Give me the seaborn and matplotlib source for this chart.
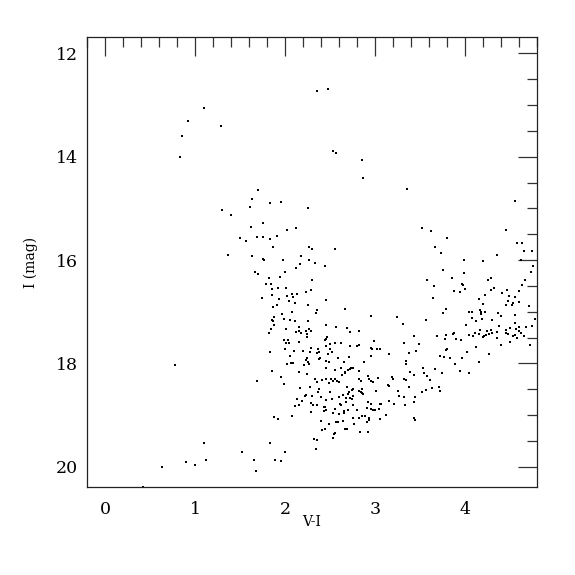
import numpy as np
import pandas as pd
import matplotlib
matplotlib.use("Agg")
import matplotlib.pyplot as plt
import seaborn as sns
from matplotlib.ticker import MultipleLocator

# (V-I, I) pairs, grouped by region of the diagram
bright = [(2.35,12.73),(2.48,12.69),(1.10,13.05),(0.92,13.31),(1.29,13.40),(0.86,13.59),
          (0.83,14.01),(2.53,13.89),(2.57,13.93),(2.86,14.07),(2.87,14.41),(3.36,14.63),
          (0.78,18.04),(2.56,15.79),(2.44,16.12)]

branch_upper = [(1.70,14.65),(1.63,14.82),(1.83,14.90),(1.96,14.88),(1.61,14.97),(2.25,14.99),
          (1.30,15.04),(1.40,15.12),(1.76,15.29),(1.62,15.36),(2.12,15.38),(2.02,15.41),
          (1.91,15.53),(1.50,15.57),(1.57,15.64),(1.69,15.56),(1.75,15.56),(1.83,15.59),
          (1.87,15.75),(2.27,15.74),(2.30,15.78),(1.37,15.90),(1.63,15.93),(1.76,15.98),
          (1.77,16.00),(1.98,16.00),(2.18,15.92),(2.27,16.00),(2.33,16.05),(2.17,16.07),
          (2.12,16.15),(2.00,16.23),(1.67,16.23),(1.70,16.28),(1.94,16.33),(1.82,16.34),
          (2.30,16.38),(1.79,16.47),(1.84,16.46),(1.85,16.56),(1.92,16.54),(2.01,16.54),
          (2.29,16.58),(2.23,16.61),(2.08,16.66),(2.13,16.66),(1.74,16.74),(1.86,16.68),
          (2.02,16.70),(2.09,16.72),(1.93,16.75)]

branch_lower = [(2.04,16.79),(2.11,16.83),(2.25,16.87),(1.91,16.88),(1.87,16.90),(2.35,16.97),
          (2.34,17.03),(2.08,17.01),(1.97,17.05),(1.88,17.10),(1.86,17.16),(1.87,17.18),
          (1.99,17.14),(2.06,17.16),(2.11,17.18),(2.26,17.19),(1.88,17.26),(2.15,17.29),
          (1.84,17.33),(2.01,17.34),(2.16,17.37),(2.27,17.34),(2.29,17.37),(2.12,17.39),
          (1.82,17.41),(2.18,17.41),(2.23,17.37),(2.24,17.44),(2.24,17.49),(1.99,17.55),
          (2.03,17.55),(2.01,17.61),(2.04,17.60),(2.16,17.59),(2.29,17.70),(2.00,17.72),
          (2.37,17.72),(1.83,17.79),(2.10,17.77),(2.20,17.77),(2.28,17.79),(2.36,17.80),
          (2.38,17.79),(2.05,17.86),(2.24,17.90),(2.23,17.94),(2.38,17.92),(2.26,17.97),
          (2.07,17.99),(2.09,17.99),(2.02,18.01),(2.21,18.03),(2.27,18.02),(1.85,18.15),
          (2.15,18.17),(2.24,18.21),(1.95,18.27),(1.69,18.35),(2.33,18.30),(2.36,18.37),
          (1.99,18.40),(2.17,18.48),(2.28,18.45),(2.38,18.49)]

clump = [(2.45,16.78),(2.67,16.95),(2.95,17.08),(3.24,17.10),(3.31,17.23),(2.45,17.25),
          (2.57,17.30),(2.69,17.32),(2.72,17.39),(2.82,17.38),(3.43,17.47),(2.47,17.49),
          (2.46,17.53),(2.44,17.54),(2.99,17.57),(3.32,17.60),(3.49,17.63),(2.50,17.63),
          (2.55,17.61),(2.62,17.61),(2.82,17.64),(2.80,17.67),(2.72,17.67),(2.45,17.67),
          (2.95,17.71),(2.97,17.72),(3.02,17.73),(3.06,17.73),(2.50,17.73),(2.48,17.81),
          (2.52,17.79),(3.16,17.81),(3.38,17.80),(3.45,17.76),(2.96,17.85),(2.59,17.89),
          (2.71,17.88),(2.39,17.90),(2.88,17.98),(2.65,17.98),(2.49,17.98),(2.46,17.96),
          (3.34,17.96),(3.34,18.01),(3.39,18.16),(3.43,18.23),(2.45,18.09),(2.56,18.12),
          (2.62,18.09),(2.70,18.12),(2.73,18.09),(2.75,18.09),(2.72,18.11),(2.82,18.15),
          (2.67,18.16),(2.67,18.19),(2.63,18.22),(2.41,18.32),(2.45,18.31),(2.51,18.30),
          (2.56,18.30),(2.58,18.34),(2.53,18.34),(2.60,18.36),(2.49,18.38),(2.92,18.25),
          (2.93,18.31),(2.96,18.34),(2.98,18.36),(3.03,18.29),(2.82,18.30),(2.84,18.35),
          (3.19,18.27),(3.20,18.30),(3.32,18.31),(3.34,18.32),(3.14,18.41),(3.16,18.44),
          (3.38,18.45),(2.69,18.45),(2.76,18.49),(2.85,18.50)]

clump_faint = [(2.40,18.66),(2.50,18.56),(2.60,18.66),(2.64,18.61),(2.70,18.59),(2.71,18.55),
          (2.74,18.52),(2.82,18.53),(2.84,18.55),(2.86,18.57),(2.87,18.59),(3.01,18.53),
          (3.26,18.53),(3.27,18.63),(3.32,18.65),(3.44,18.66),(3.52,18.56),(3.57,18.52),
          (3.72,18.54),(2.46,18.71),(2.52,18.70),(2.68,18.68),(2.72,18.68),(2.74,18.70),
          (2.68,18.74),(2.76,18.63),(2.43,18.85),(2.44,18.84),(2.45,18.91),(2.43,18.93),
          (2.56,18.88),(2.62,18.80),(2.61,18.78),(2.70,18.90),(2.76,18.81),(2.92,18.74),
          (2.96,18.79),(3.06,18.79),(3.07,18.79),(3.16,18.73),(3.21,18.79),(3.33,18.80),
          (3.43,18.74),(2.80,18.90),(2.91,18.86),(2.96,18.89),(2.98,18.90),(3.00,18.90),
          (3.04,18.88),(2.53,18.97),(2.60,18.99),(2.66,18.96),(2.66,18.92),(2.76,19.06),
          (2.82,19.06),(2.86,19.01),(2.89,19.01),(2.93,19.05),(2.93,19.10),(2.91,19.14),
          (3.05,19.08),(3.12,19.00),(3.43,19.05),(3.44,19.09),(2.40,19.11),(2.49,19.17),
          (2.57,19.13),(2.59,19.13),(2.64,19.12),(2.77,19.17),(2.67,19.27),(2.69,19.28),
          (2.83,19.32),(2.92,19.32),(2.41,19.30),(2.44,19.28),(2.54,19.36),(2.56,19.34),
          (2.53,19.45)]

faint_blue = [(2.37,18.56),(2.22,18.63),(2.23,18.62),(2.30,18.63),(2.13,18.69),(2.19,18.72),
          (2.29,18.76),(2.31,18.80),(2.36,18.81),(2.11,18.82),(2.16,18.81),(2.29,18.94),
          (2.08,19.01),(1.88,19.03),(1.92,19.08),(2.32,19.46),(2.36,19.48),(2.34,19.65),
          (1.83,19.54),(1.10,19.55),(1.52,19.72),(2.00,19.72),(1.65,19.88),(1.89,19.87),
          (1.95,19.90),(1.12,19.88),(0.90,19.91),(1.00,19.96),(0.63,20.01),(1.68,20.08),
          (0.42,20.39)]

red_upper = [(4.56,14.86),(3.52,15.38),(3.62,15.43),(4.46,15.41),(3.80,15.58),(4.58,15.67),
          (4.63,15.68),(3.67,15.75),(4.65,15.82),(4.74,15.82),(3.73,15.87),(4.36,15.90),
          (3.99,16.00),(4.20,16.01),(4.62,16.00),(4.76,16.11),(3.76,16.20),(4.73,16.23),
          (3.99,16.26),(3.58,16.38),(3.86,16.35),(4.29,16.34),(4.26,16.38),(4.67,16.39),
          (3.97,16.47),(3.98,16.48),(3.66,16.51),(4.63,16.49),(4.32,16.54),(4.00,16.57),
          (3.88,16.60),(3.94,16.62),(4.29,16.59),(4.47,16.58),(4.60,16.60),(4.41,16.64),
          (4.22,16.68),(4.49,16.70),(4.56,16.72),(3.64,16.74),(4.16,16.76)]

red_lower = [(4.48,16.79),(4.53,16.83),(4.60,16.81),(4.46,16.88),(4.52,16.87),(4.20,16.85),
          (4.71,16.89),(3.79,16.94),(3.76,17.03),(4.04,17.01),(4.08,17.01),(4.17,16.97),
          (4.18,17.01),(4.18,17.05),(4.22,17.01),(4.37,17.02),(4.40,17.09),(4.55,17.06),
          (3.57,17.16),(4.08,17.13),(4.12,17.18),(4.19,17.14),(4.30,17.16),(4.78,17.14),
          (4.01,17.26),(4.38,17.27),(4.50,17.31),(4.55,17.22),(4.60,17.29),(4.68,17.30),
          (4.74,17.28),(4.45,17.35),(4.57,17.34),(4.60,17.38),(4.62,17.41),(4.17,17.35),
          (4.24,17.38),(4.29,17.36),(4.30,17.41),(4.27,17.43),(4.23,17.45),(4.36,17.39),
          (4.46,17.41),(4.16,17.44),(4.11,17.41),(4.09,17.47),(4.04,17.45),(4.20,17.49),
          (4.21,17.47),(4.48,17.43),(4.53,17.47),(4.56,17.45),(4.58,17.50),(4.66,17.47),
          (3.88,17.41),(3.87,17.44),(3.79,17.45),(3.69,17.48),(3.78,17.52),(3.90,17.53),
          (3.96,17.55),(4.36,17.51),(4.40,17.65),(4.50,17.59),(4.72,17.65),(4.12,17.69),
          (3.79,17.74),(3.80,17.72),(4.02,17.78),(4.27,17.81),(3.72,17.85),(3.77,17.87),
          (3.83,17.89),(3.97,17.89),(3.89,18.01),(4.15,17.98),(3.67,18.10),(3.74,18.18),
          (3.94,18.15),(4.04,18.18),(3.53,18.09),(3.54,18.19),(3.58,18.24),(3.61,18.32),
          (3.63,18.47),(3.71,18.46)]

groups = [bright, branch_upper, branch_lower, clump, clump_faint, faint_blue, red_upper, red_lower]
pts = [p for g in groups for p in g]
df = pd.DataFrame(pts, columns=["V-I", "I"])

sns.set_theme(style="white")
plt.rcParams["font.family"] = ["DejaVu Serif"]
plt.rcParams["text.color"] = "black"
plt.rcParams["axes.labelcolor"] = "black"

fig = plt.figure(figsize=(5.75, 5.75), dpi=100)
ax = fig.add_axes([0.1513, 0.1525, 0.7827, 0.7825])

sns.scatterplot(data=df, x="V-I", y="I", ax=ax, marker="s", s=4,
                color="black", linewidth=0, legend=False)

ax.set_xlim(-0.2, 4.8)
ax.set_ylim(20.4, 11.69)

ax.xaxis.set_major_locator(MultipleLocator(1))
ax.xaxis.set_minor_locator(MultipleLocator(0.2))
ax.yaxis.set_major_locator(MultipleLocator(2))
ax.yaxis.set_minor_locator(MultipleLocator(0.5))

for s in ax.spines.values():
    s.set_color("#222222")
    s.set_linewidth(0.9)

ax.tick_params(which="both", direction="in", top=True, right=True,
               color="#333333", width=0.9, labelcolor="black")
ax.tick_params(which="major", length=13.5)
ax.tick_params(which="minor", length=7)
ax.tick_params(axis="y", which="major", labelsize=12.5, pad=6.5)
ax.tick_params(axis="x", which="major", labelsize=12.5, pad=10)

ax.set_xlabel("V-I", fontsize=10, labelpad=-2)
ax.set_ylabel("I (mag)", fontsize=10, labelpad=13)

fig.savefig("out.png", dpi=100, facecolor="white")
